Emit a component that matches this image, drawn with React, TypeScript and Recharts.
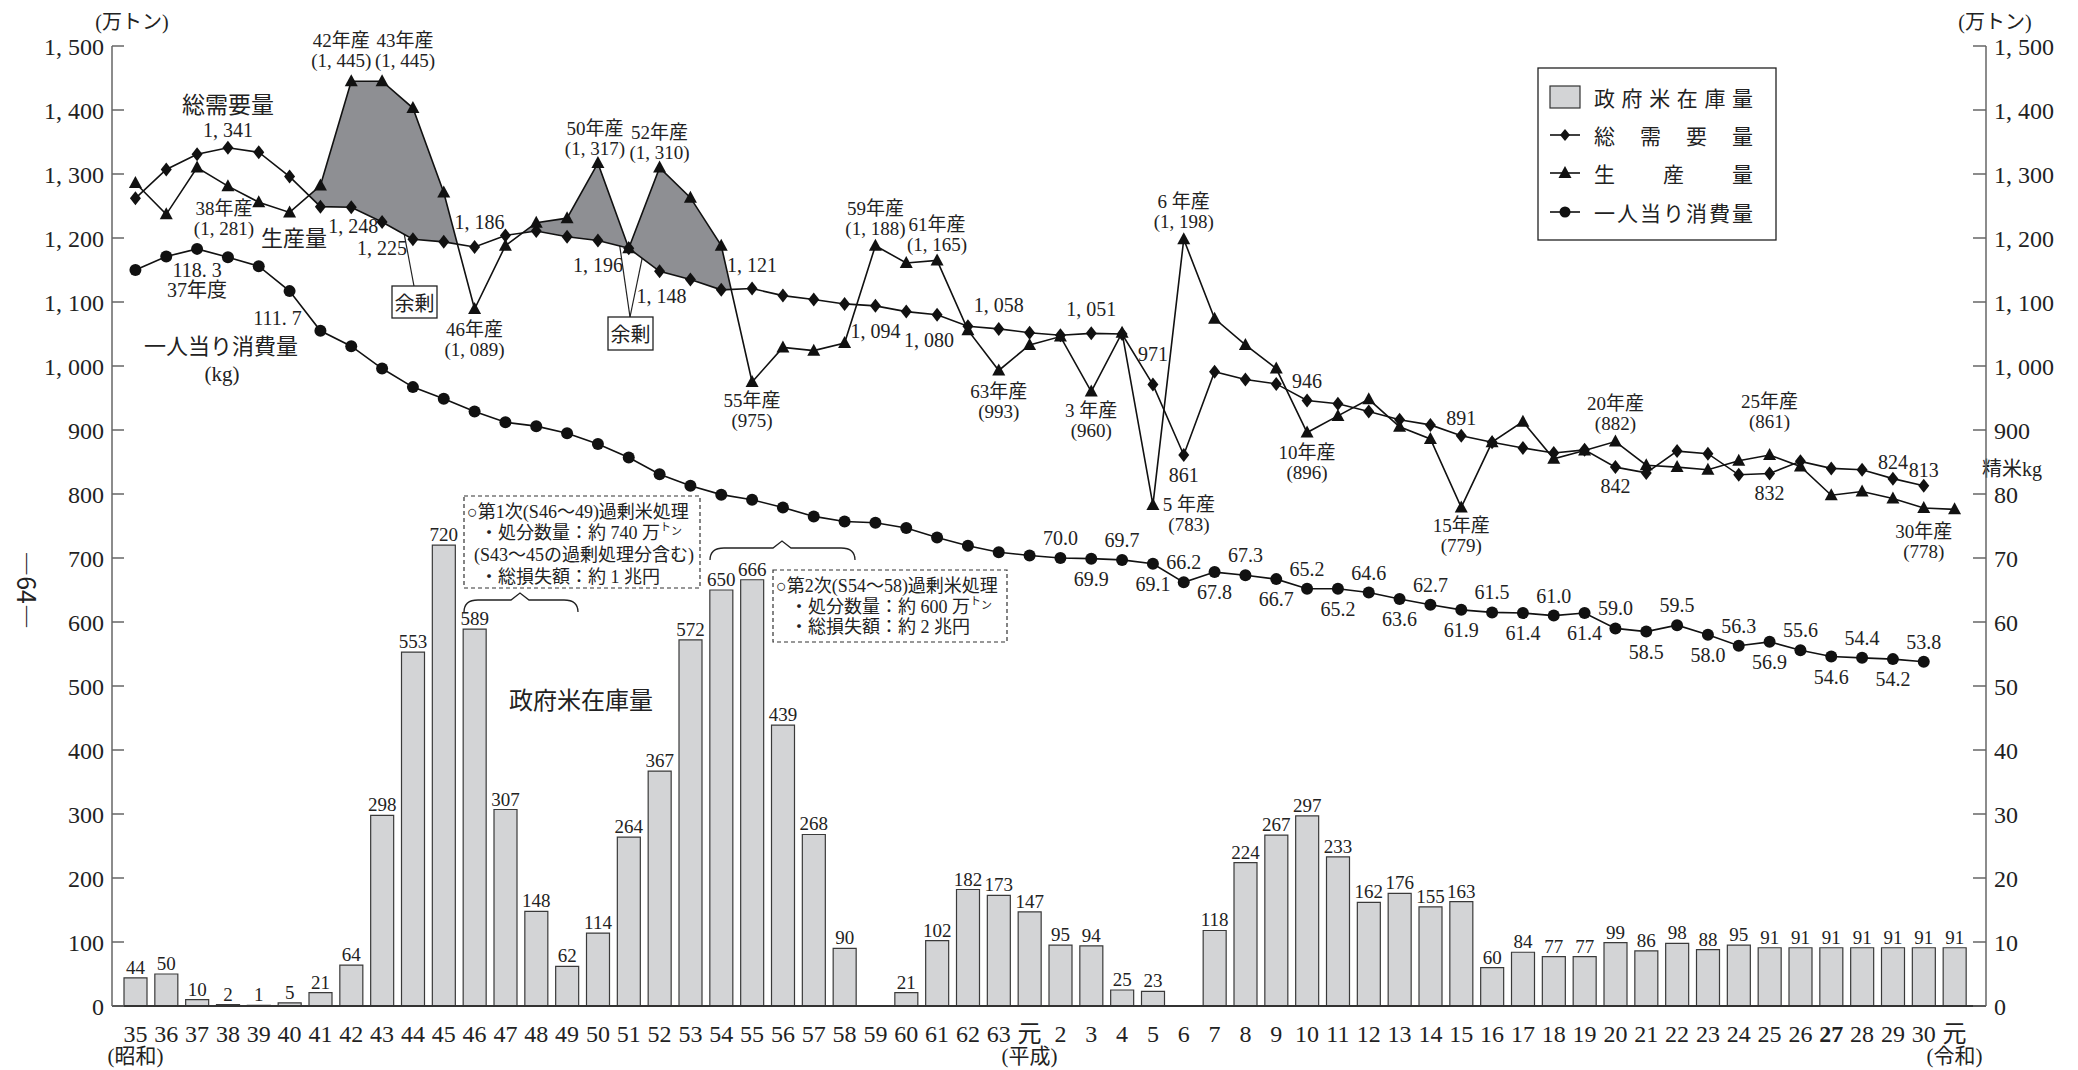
import React from "react";
import {
    ComposedChart,
    Bar,
    Line,
    Area,
    XAxis,
    YAxis,
    LabelList,
    Customized
} from "recharts";

const FONT = "'Liberation Serif', 'Noto Sans CJK JP', serif";
const FONT_JP = "'Noto Sans CJK JP', sans-serif";

// 年（昭和35〜63、平成元〜30、令和元）
const years = [
    "35", "36", "37", "38", "39", "40", "41", "42", "43", "44", "45", "46", "47", "48", "49",
    "50", "51", "52", "53", "54", "55", "56", "57", "58", "59", "60", "61", "62", "63",
    "元", "2", "3", "4", "5", "6", "7", "8", "9", "10", "11", "12", "13", "14", "15", "16",
    "17", "18", "19", "20", "21", "22", "23", "24", "25", "26", "27", "28", "29", "30",
    "元"
];
const eras: Record<number, string> = { 0: "(昭和)", 29: "(平成)", 59: "(令和)" };

// 政府米在庫量（万トン）
const stock = [
    44, 50, 10, 2, 1, 5, 21, 64, 298, 553, 720, 589, 307, 148, 62, 114, 264, 367, 572, 650, 666, 439, 268, 90,
    null, 21, 102, 182, 173, 147, 95, 94, 25, 23, null, 118, 224, 267, 297, 233, 162, 176, 155, 163,
    60, 84, 77, 77, 99, 86, 98, 88, 95, 91, 91, 91, 91, 91, 91, 91
];

// 総需要量（万トン）
const demand = [
    1262, 1307, 1331, 1341, 1334, 1296, 1249, 1248, 1225, 1198, 1194, 1186, 1204, 1211, 1202,
    1196, 1184, 1148, 1135, 1119, 1121, 1110, 1104, 1097, 1094, 1085, 1080, 1062, 1058,
    1052, 1048, 1051, 1050, 971, 861, 991, 979, 972, 946, 941, 929, 916, 908, 891, 881,
    872, 864, 869, 842, 833, 867, 863, 830, 832, 851, 840, 838, 824, 813,
    null
];

// 生産量（万トン）
const production = [
    1286, 1237, 1310, 1281, 1256, 1240, 1282, 1445, 1445, 1403, 1271, 1089, 1188, 1224, 1231,
    1317, 1184, 1310, 1263, 1188, 975, 1029, 1024, 1036, 1188, 1161, 1165, 1056, 993,
    1033, 1046, 960, 1052, 783, 1198, 1074, 1033, 996, 896, 922, 948, 905, 886, 779, 881,
    913, 855, 868, 882, 845, 842, 838, 852, 861, 843, 798, 804, 793, 778,
    776
];

// 一人当り消費量（精米kg）
const perCapita = [
    115.0, 117.1, 118.3, 117.0, 115.6, 111.7, 105.5, 103.1, 99.6, 96.7, 94.9, 92.9, 91.2, 90.6, 89.5,
    87.8, 85.7, 83.1, 81.3, 79.9, 79.1, 77.9, 76.5, 75.7, 75.5, 74.7, 73.2, 71.9, 70.9,
    70.4, 70.0, 69.9, 69.7, 69.1, 66.2, 67.8, 67.3, 66.7, 65.2, 65.2, 64.6, 63.6, 62.7, 61.9, 61.5,
    61.4, 61.0, 61.4, 59.0, 58.5, 59.5, 58.0, 56.3, 56.9, 55.6, 54.6, 54.4, 54.2, 53.8,
    null
];

const seriesNames = ["政府米在庫量", "総需要量", "生産量", "一人当り消費量"];

// 余剰（生産量 > 総需要量）を塗る区間（年の添字）
const surplusSpans = [[5, 11], [12, 20]];

// 注記の位置（点からのずれ）
const demandNotes: Record<number, [number, number]> = {
    3: [0, -18], 7: [2, 19], 8: [0, 26], 11: [5, -25], 15: [0, 24], 17: [2, 25],
    20: [0, -24], 24: [0, 25], 26: [-8, 25], 28: [0, -24], 31: [0, -24], 33: [0, -31],
    34: [0, 20], 38: [0, -20], 43: [0, -18], 48: [0, 19], 53: [0, 19], 57: [0, -17], 58: [0, -16]
};
const productionNotes: Record<number, [number, number]> = {
    3: [-4, 22], 7: [-10, -41], 8: [23, -41], 11: [0, 20], 15: [-3, -35], 17: [0, -35],
    20: [0, 18], 24: [0, -37], 26: [0, -36], 28: [0, 21], 31: [0, 19], 33: [36, 0],
    34: [0, -38], 38: [0, 20], 43: [0, 18], 48: [0, -38], 53: [0, -53], 58: [0, 23]
};
const capitaNotes: Record<number, [number, number]> = { 2: [0, 21], 5: [-12, 27] };
for (let i = 30; i <= 58; i++) capitaNotes[i] = [0, (i - 30) % 2 === 0 ? -20 : 20];

const fmt = (v: number) =>
    v >= 1000 ? `${Math.floor(v / 1000)}, ${String(v % 1000).padStart(3, "0")}` : String(v);

const table = years.map((y, i) => ({
    i,
    year: y,
    stock: stock[i],
    demand: demand[i],
    production: production[i],
    capita: perCapita[i] == null ? null : (perCapita[i] as number) * 10
}));

// 生産量と総需要量の差の区間（交点を補って）
function surplusData(from: number, to: number) {
    const pts: { i: number; range: [number, number] }[] = [];
    for (let i = from; i <= to; i++) {
        const d = production[i] - (demand[i] as number);
        if (d >= 0) pts.push({ i, range: [demand[i] as number, production[i]] });
        if (i < to) {
            const dn = production[i + 1] - (demand[i + 1] as number);
            if ((d < 0 && dn > 0) || (d > 0 && dn < 0)) {
                const t = d / (d - dn);
                const v = (demand[i] as number) + t * ((demand[i + 1] as number) - (demand[i] as number));
                pts.push({ i: i + t, range: [v, v] });
            }
        }
    }
    return pts;
}

const yTicks = Array.from({ length: 16 }, (_, k) => k * 100);

const txt = { fontFamily: FONT, fill: "#222" };

const DemandDot = (p: any) => {
    const { cx, cy, index } = p;
    if (cx == null || cy == null || demand[index] == null) return <g key={`dd-${index}`} />;
    const n = demandNotes[index];
    return (
        <g key={`dd-${index}`}>
            <polygon points={`${cx},${cy - 7} ${cx + 5.5},${cy} ${cx},${cy + 7} ${cx - 5.5},${cy}`} fill="#111" />
            {n && (
                <text x={cx + n[0]} y={cy + n[1]} textAnchor="middle" dominantBaseline="central" fontSize={20} {...txt}>
                    {fmt(demand[index] as number)}
                </text>
            )}
        </g>
    );
};

const ProductionDot = (p: any) => {
    const { cx, cy, index } = p;
    if (cx == null || cy == null) return <g key={`pd-${index}`} />;
    const n = productionNotes[index];
    const y = years[index];
    return (
        <g key={`pd-${index}`}>
            <polygon points={`${cx},${cy - 7} ${cx + 6.5},${cy + 5} ${cx - 6.5},${cy + 5}`} fill="#111" />
            {n && (
                <g>
                    <text x={cx + n[0]} y={cy + n[1]} textAnchor="middle" dominantBaseline="central" fontSize={19} {...txt}>
                        {`${y}${y.length === 1 ? " " : ""}年産`}
                    </text>
                    <text x={cx + n[0]} y={cy + n[1] + 20} textAnchor="middle" dominantBaseline="central" fontSize={19} {...txt}>
                        {`(${fmt(production[index])})`}
                    </text>
                </g>
            )}
        </g>
    );
};

const CapitaDot = (p: any) => {
    const { cx, cy, index } = p;
    if (cx == null || cy == null || perCapita[index] == null) return <g key={`cd-${index}`} />;
    const n = capitaNotes[index];
    const v = (perCapita[index] as number).toFixed(1);
    return (
        <g key={`cd-${index}`}>
            <circle cx={cx} cy={cy} r={6} fill="#111" />
            {n && (
                <text x={cx + n[0]} y={cy + n[1]} textAnchor="middle" dominantBaseline="central" fontSize={20} {...txt}>
                    {index < 30 ? v.replace(".", ". ") : v}
                </text>
            )}
            {index === 2 && (
                <text x={cx} y={cy + 41} textAnchor="middle" dominantBaseline="central" fontSize={20} {...txt}>
                    37年度
                </text>
            )}
        </g>
    );
};

const XTick = (p: any) => {
    const { x, y, payload } = p;
    const i = payload.value;
    return (
        <g>
            <text x={x} y={y + 28} textAnchor="middle" dominantBaseline="central" fontSize={24}
                fontWeight={years[i] === "27" ? "bold" : "normal"} {...txt}>
                {years[i]}
            </text>
            {eras[i] && (
                <text x={x} y={y + 50} textAnchor="middle" dominantBaseline="central" fontSize={21} {...txt}>
                    {eras[i]}
                </text>
            )}
        </g>
    );
};

const Brace = ({ x0, x1, peak, top }: { x0: number; x1: number; peak: number; top: number }) => {
    const h = top + 7;
    const end = top + 19;
    return (
        <path
            d={`M${x0},${end} Q${x0},${h} ${x0 + 14},${h} L${peak - 9},${h} L${peak},${top} L${peak + 9},${h} L${x1 - 14},${h} Q${x1},${h} ${x1},${end}`}
            fill="none" stroke="#222" strokeWidth={1.3}
        />
    );
};

const SmallTon = () => (
    <>
        <tspan fontSize={11} dy={-6}>ト</tspan>
        <tspan fontSize={11} dy={4}>ン</tspan>
    </>
);

const spread = (s: string, x0: number, w: number, y: number, size: number) => {
    const chars = Array.from(s);
    const step = chars.length > 1 ? (w - size) / (chars.length - 1) : 0;
    return chars.map((c, k) => (
        <text key={k} x={x0 + k * step} y={y} dominantBaseline="central" fontSize={size} fontFamily={FONT_JP} fill="#222">
            {c}
        </text>
    ));
};

const Overlay = () => {
    const lx = 1530, ly = 60;
    const rows = [89, 127, 165, 204];
    return (
        <g>
            <defs>
                <marker id="arr" viewBox="0 0 10 10" refX="9" refY="5" markerWidth="7" markerHeight="9" orient="auto">
                    <path d="M0,1 L10,5 L0,9 z" fill="#222" />
                </marker>
            </defs>
            {/* 軸タイトル */}
            <text x={124} y={14} textAnchor="middle" dominantBaseline="central" fontSize={20} {...txt}>(万トン)</text>
            <text x={1987} y={14} textAnchor="middle" dominantBaseline="central" fontSize={20} {...txt}>(万トン)</text>
            <text x={2004} y={461} textAnchor="middle" dominantBaseline="central" fontSize={20} {...txt}>精米kg</text>
            <text x={20} y={582} textAnchor="middle" dominantBaseline="central" fontSize={25} fontFamily={FONT_JP} fill="#222"
                transform="rotate(90 20 582)">―64―</text>

            {/* 系列名 */}
            <text x={220} y={95} textAnchor="middle" dominantBaseline="central" fontSize={23} fontFamily={FONT_JP} fill="#222">総需要量</text>
            <text x={286} y={228} textAnchor="middle" dominantBaseline="central" fontSize={22} fontFamily={FONT_JP} fill="#222">生産量</text>
            <text x={213} y={336} textAnchor="middle" dominantBaseline="central" fontSize={22} fontFamily={FONT_JP} fill="#222">一人当り消費量</text>
            <text x={214} y={366} textAnchor="middle" dominantBaseline="central" fontSize={21} {...txt}>(kg)</text>
            <text x={573} y={690} textAnchor="middle" dominantBaseline="central" fontSize={24} fontFamily={FONT_JP} fill="#222">政府米在庫量</text>

            {/* 余剰 */}
            <line x1={406} y1={278} x2={386} y2={172} stroke="#222" strokeWidth={1.2} markerEnd="url(#arr)" />
            <rect x={384} y={278} width={45} height={32} fill="#fff" stroke="#222" strokeWidth={1.3} />
            <text x={406.5} y={294} textAnchor="middle" dominantBaseline="central" fontSize={20} fontFamily={FONT_JP} fill="#222">余剰</text>
            <line x1={622} y1={309} x2={610} y2={226} stroke="#222" strokeWidth={1.2} markerEnd="url(#arr)" />
            <line x1={622} y1={309} x2={640} y2={222} stroke="#222" strokeWidth={1.2} markerEnd="url(#arr)" />
            <rect x={600} y={309} width={45} height={33} fill="#fff" stroke="#222" strokeWidth={1.3} />
            <text x={622.5} y={325.5} textAnchor="middle" dominantBaseline="central" fontSize={20} fontFamily={FONT_JP} fill="#222">余剰</text>

            {/* 過剰米処理 */}
            <rect x={456} y={488} width={236} height={92} fill="#fff" stroke="#333" strokeWidth={1.2} strokeDasharray="4 3" />
            <g fontSize={18} {...txt}>
                <text x={459} y={504} dominantBaseline="central">○第1次(S46～49)過剰米処理</text>
                <text x={472} y={525} dominantBaseline="central">・処分数量：約 740 万<SmallTon /></text>
                <text x={466} y={547} dominantBaseline="central">(S43～45の過剰処理分含む)</text>
                <text x={472} y={569} dominantBaseline="central">・総損失額：約 1 兆円</text>
            </g>
            <Brace x0={456} x1={570} peak={512} top={585} />

            <rect x={765} y={562} width={234} height={72} fill="#fff" stroke="#333" strokeWidth={1.2} strokeDasharray="4 3" />
            <g fontSize={18} {...txt}>
                <text x={768} y={578} dominantBaseline="central">○第2次(S54～58)過剰米処理</text>
                <text x={782} y={599} dominantBaseline="central">・処分数量：約 600 万<SmallTon /></text>
                <text x={782} y={619} dominantBaseline="central">・総損失額：約 2 兆円</text>
            </g>
            <Brace x0={702} x1={847} peak={774} top={533} />

            {/* 凡例 */}
            <rect x={lx} y={ly} width={238} height={172} fill="#fff" stroke="#222" strokeWidth={1.3} />
            <rect x={1542} y={rows[0] - 11} width={30} height={22} fill="#d3d4d6" stroke="#333" strokeWidth={1.2} />
            {[1, 2, 3].map(k => (
                <line key={k} x1={1542} x2={1572} y1={rows[k]} y2={rows[k]} stroke="#111" strokeWidth={1.6} />
            ))}
            <polygon points={`1557,${rows[1] - 6} 1562,${rows[1]} 1557,${rows[1] + 6} 1552,${rows[1]}`} fill="#111" />
            <polygon points={`1557,${rows[2] - 7} 1563.5,${rows[2] + 5} 1550.5,${rows[2] + 5}`} fill="#111" />
            <circle cx={1557} cy={rows[3]} r={5.5} fill="#111" />
            {seriesNames.map((s, k) => <g key={s}>{spread(s, 1586, 159, rows[k], 21)}</g>)}
        </g>
    );
};

export default function App() {
    return (
        <ComposedChart
            width={2062}
            height={1062}
            data={table}
            margin={{ top: 38, right: 0, bottom: 8, left: 0 }}
            style={{ background: "#fff" }}
        >
            <XAxis
                xAxisId="cat"
                dataKey="i"
                type="category"
                interval={0}
                height={56}
                padding={{ left: 8, right: 16 }}
                axisLine={{ stroke: "#333", strokeWidth: 2 }}
                tickLine={false}
                tickSize={0}
                tickMargin={0}
                tick={<XTick />}
            />
            <XAxis
                xAxisId="num"
                dataKey="i"
                type="number"
                domain={[-0.5, 59.5]}
                padding={{ left: 8, right: 16 }}
                allowDataOverflow
                hide
            />
            <YAxis
                yAxisId="left"
                domain={[0, 1500]}
                ticks={yTicks}
                interval={0}
                width={104}
                tickSize={-12}
                tickMargin={20}
                axisLine={{ stroke: "#666", strokeWidth: 1.5 }}
                tickLine={{ stroke: "#666", strokeWidth: 1.5 }}
                tick={{ fontSize: 24, fill: "#222", fontFamily: FONT }}
                tickFormatter={(v: number) => fmt(v)}
            />
            <YAxis
                yAxisId="right"
                orientation="right"
                domain={[0, 1500]}
                ticks={yTicks}
                interval={0}
                width={84}
                tickSize={-13}
                tickMargin={21}
                axisLine={{ stroke: "#666", strokeWidth: 1.5 }}
                tickLine={{ stroke: "#666", strokeWidth: 1.5 }}
                tick={{ fontSize: 24, fill: "#222", fontFamily: FONT }}
                tickFormatter={(v: number) => (v <= 800 ? String(v / 10) : fmt(v))}
            />
            {surplusSpans.map(([a, b]) => (
                <Area
                    key={`s-${a}`}
                    xAxisId="num"
                    yAxisId="left"
                    data={surplusData(a, b)}
                    dataKey="range"
                    type="linear"
                    fill="#8e8f93"
                    fillOpacity={1}
                    stroke="none"
                    dot={false}
                    activeDot={false}
                    isAnimationActive={false}
                />
            ))}
            <Bar
                xAxisId="cat"
                yAxisId="left"
                dataKey="stock"
                barSize={23}
                fill="#d3d4d6"
                stroke="#3a3a3a"
                strokeWidth={1.2}
                isAnimationActive={false}
            >
                <LabelList dataKey="stock" position="top" offset={4} fontSize={19} fill="#222" fontFamily={FONT} />
            </Bar>
            <Line
                xAxisId="cat"
                yAxisId="left"
                dataKey="demand"
                type="linear"
                stroke="#111"
                strokeWidth={1.6}
                dot={DemandDot}
                activeDot={false}
                isAnimationActive={false}
            />
            <Line
                xAxisId="cat"
                yAxisId="left"
                dataKey="production"
                type="linear"
                stroke="#111"
                strokeWidth={1.6}
                dot={ProductionDot}
                activeDot={false}
                isAnimationActive={false}
            />
            <Line
                xAxisId="cat"
                yAxisId="right"
                dataKey="capita"
                type="linear"
                stroke="#111"
                strokeWidth={1.6}
                dot={CapitaDot}
                activeDot={false}
                isAnimationActive={false}
            />
            <Customized component={<Overlay />} />
        </ComposedChart>
    );
}
